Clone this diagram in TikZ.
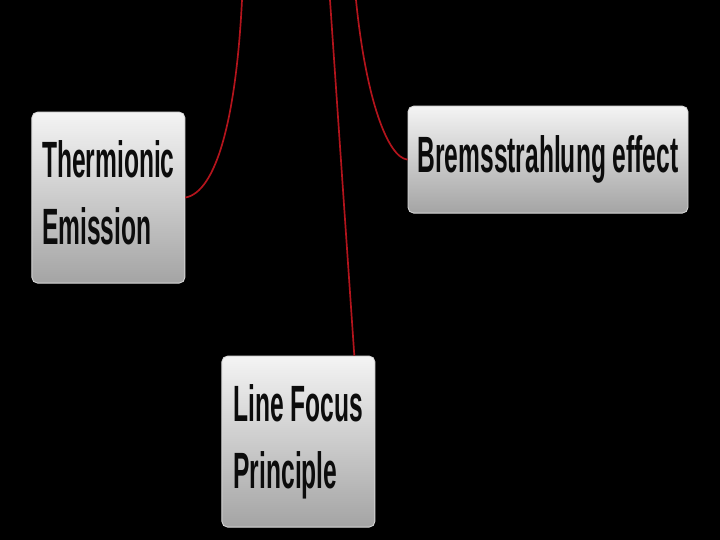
\documentclass[tikz,border=0pt]{standalone}
\usepackage{fontspec}
\usepackage{graphicx}
\setmainfont{Liberation Sans}
\usetikzlibrary{positioning}
\definecolor{linkRed}{HTML}{B3141C}
\definecolor{boxTop}{HTML}{F4F4F4}
\definecolor{boxBottom}{HTML}{A4A4A4}
\definecolor{boxEdge}{HTML}{D8D8D8}
\definecolor{labelInk}{HTML}{0C0C0C}
\tikzset{
  topic/.style={rectangle, rounded corners=4pt, draw=boxEdge, line width=0.6pt, top color=boxTop, bottom color=boxBottom, text=labelInk, align=left, inner sep=0pt, font=\bfseries\fontsize{33}{43}\selectfont},
  link/.style={draw=linkRed, line width=1.2pt}
}
\newcommand{\narrowLabel}[1]{\scalebox{0.53}[1.1]{\begin{tabular}{@{}l@{}}#1\end{tabular}}}

\begin{document}
\begin{tikzpicture}[x=1cm,y=1cm]

% --------------------------------------------------------------------------
% Background
% --------------------------------------------------------------------------
\fill[black] (0,0) rectangle (18,13.5);
\useasboundingbox (0,0) rectangle (18,13.5);

% --------------------------------------------------------------------------
% Topics
% --------------------------------------------------------------------------
\node[topic, minimum width=3.825cm, minimum height=4.275cm] (thermionic) at (2.71,8.56) {\narrowLabel{Thermionic\\Emission}};
\node[topic, minimum width=7.0cm, minimum height=2.675cm] (brems) at (13.7,9.51) {\narrowLabel{Bremsstrahlung effect}};
\node[topic, minimum width=3.825cm, minimum height=4.275cm] (lineFocus) at (7.46,2.46) {\narrowLabel{Line Focus\\Principle}};

% --------------------------------------------------------------------------
% Links to the (off-page) parent
% --------------------------------------------------------------------------
\coordinate (thermionicTop) at (6.05,13.5);
\coordinate (bremsTop) at (8.9,13.5);
\coordinate (lineFocusTop) at (8.25,13.5);

\draw[link] (thermionic.east) .. controls (5.4,8.7) and (5.9,10.5) .. (thermionicTop);
\draw[link] (brems.west) .. controls (9.7,9.55) and (9.15,11.0) .. (bremsTop);
\draw[link] ([xshift=-0.525cm]lineFocus.north east) -- (lineFocusTop);

\end{tikzpicture}
\end{document}
